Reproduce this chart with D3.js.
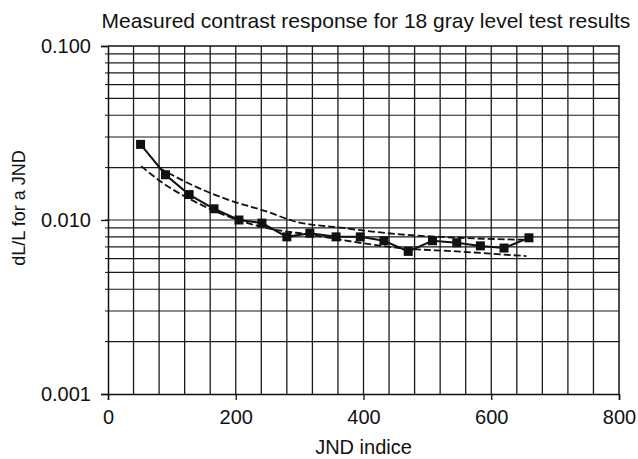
<!DOCTYPE html>
<html lang="en">
  <head>
    <meta charset="utf-8">
    <title>Measured contrast response</title>
    <style type="text/css">
body { margin: 0; background: #fff; }
text { font-family: "Liberation Sans", Arial, sans-serif; fill: #111; }
    </style>
  </head>
  <body>
    <div id="chart"></div>

    <script src="https://cdn.jsdelivr.net/npm/d3@7"></script>
    <script>
      // measured points (squares, solid line)
      var jndIdx = [51, 90, 127, 166, 205, 241, 280, 316, 357, 395, 432, 470, 508, 546, 583, 620, 659];
      var measured = [0.0272, 0.0182, 0.0140, 0.0116, 0.0100, 0.0096, 0.0080, 0.0084, 0.0080, 0.0080,
                      0.0076, 0.0066, 0.0076, 0.0074, 0.0071, 0.0069, 0.0079];

      // lower dashed curve
      var lowX = [52, 86, 128, 164, 203, 248, 320, 394, 457, 546, 655];
      var lowY = [0.0204, 0.0163, 0.0132, 0.0114, 0.0100, 0.0090, 0.0082, 0.0074, 0.0069, 0.0066, 0.0062];

      // upper dashed curve
      var upX = [80, 138, 190, 248, 289, 368, 452, 519, 650];
      var upY = [0.0199, 0.0155, 0.0130, 0.0112, 0.0099, 0.0090, 0.0083, 0.0080, 0.0077];

      var xTicks = [0, 200, 400, 600, 800];
      var yTicks = [0.001, 0.01, 0.1];

      var W = 638, H = 459;
      var margin = {top: 46, right: 19, bottom: 65, left: 108};
      var width = W - margin.left - margin.right,
          height = H - margin.top - margin.bottom;

      var svg = d3.select("#chart").append("svg")
          .attr("width", W)
          .attr("height", H);

      var g = svg.append("g").attr("transform", "translate(" + margin.left + "," + margin.top + ")");

      var x = d3.scaleLinear().domain([0, 800]).range([0, width]);
      var y = d3.scaleLog().domain([0.001, 0.1]).range([height, 0]);

      // grid: every 40 in x, log minors in y
      var xGrid = d3.range(40, 800, 40);
      var yGrid = y.ticks().filter(function(v) { return v > 0.001 && v < 0.1; });

      g.append("g").selectAll("line")
        .data(xGrid)
        .enter().append("line")
          .attr("x1", function(d) { return x(d); })
          .attr("x2", function(d) { return x(d); })
          .attr("y1", 0)
          .attr("y2", height)
          .attr("stroke", "#1a1a1a")
          .attr("stroke-width", 1.3);

      g.append("g").selectAll("line")
        .data(yGrid)
        .enter().append("line")
          .attr("x1", 0)
          .attr("x2", width)
          .attr("y1", function(d) { return y(d); })
          .attr("y2", function(d) { return y(d); })
          .attr("stroke", "#1a1a1a")
          .attr("stroke-width", 1.2);

      // frame top + right
      g.append("path")
          .attr("d", "M0,0H" + width + "V" + height)
          .attr("fill", "none")
          .attr("stroke", "#111")
          .attr("stroke-width", 1.5);

      var xAxis = g.append("g")
          .attr("transform", "translate(0," + height + ")")
          .call(d3.axisBottom(x).tickValues(xTicks).tickSize(6).tickPadding(10).tickFormat(d3.format("d")));

      var yAxis = g.append("g")
          .call(d3.axisLeft(y).tickValues(yTicks).tickSize(7).tickPadding(10).tickFormat(d3.format(".3f")));

      [xAxis, yAxis].forEach(function(a) {
        a.select(".domain").attr("stroke", "#111").attr("stroke-width", 1.5);
        a.selectAll(".tick line").attr("stroke", "#111").attr("stroke-width", 1.3);
        a.selectAll("text").attr("font-size", 20).attr("fill", "#111")
          .attr("font-family", "Liberation Sans, Arial, sans-serif");
      });

      // small minor ticks on left axis
      g.append("g").selectAll("line")
        .data(yGrid)
        .enter().append("line")
          .attr("x1", -3).attr("x2", 0)
          .attr("y1", function(d) { return y(d); })
          .attr("y2", function(d) { return y(d); })
          .attr("stroke", "#111");

      var line = d3.line()
          .x(function(d) { return x(d[0]); })
          .y(function(d) { return y(d[1]); });

      var curve = d3.line()
          .curve(d3.curveMonotoneX)
          .x(function(d) { return x(d[0]); })
          .y(function(d) { return y(d[1]); });

      g.append("path")
          .datum(d3.zip(lowX, lowY))
          .attr("d", curve)
          .attr("fill", "none")
          .attr("stroke", "#111")
          .attr("stroke-width", 1.8)
          .attr("stroke-dasharray", "7,3");

      g.append("path")
          .datum(d3.zip(upX, upY))
          .attr("d", curve)
          .attr("fill", "none")
          .attr("stroke", "#111")
          .attr("stroke-width", 1.8)
          .attr("stroke-dasharray", "7,3");

      var pts = d3.zip(jndIdx, measured);

      g.append("path")
          .datum(pts)
          .attr("d", line)
          .attr("fill", "none")
          .attr("stroke", "#111")
          .attr("stroke-width", 2);

      g.selectAll(".sq")
        .data(pts)
        .enter().append("rect")
          .attr("class", "sq")
          .attr("x", function(d) { return x(d[0]) - 4.5; })
          .attr("y", function(d) { return y(d[1]) - 4.5; })
          .attr("width", 9)
          .attr("height", 9)
          .attr("fill", "#111");

      // titles
      svg.append("text")
          .attr("x", 366)
          .attr("y", 28)
          .attr("text-anchor", "middle")
          .attr("font-size", 21)
          .text("Measured contrast response for 18 gray level test results");

      svg.append("text")
          .attr("x", margin.left + width / 2)
          .attr("y", 454)
          .attr("text-anchor", "middle")
          .attr("font-size", 20)
          .text("JND indice");

      svg.append("text")
          .attr("transform", "translate(25,208) rotate(-90)")
          .attr("text-anchor", "middle")
          .attr("font-size", 18)
          .text("dL/L for a JND");
    </script>
  </body>
</html>
